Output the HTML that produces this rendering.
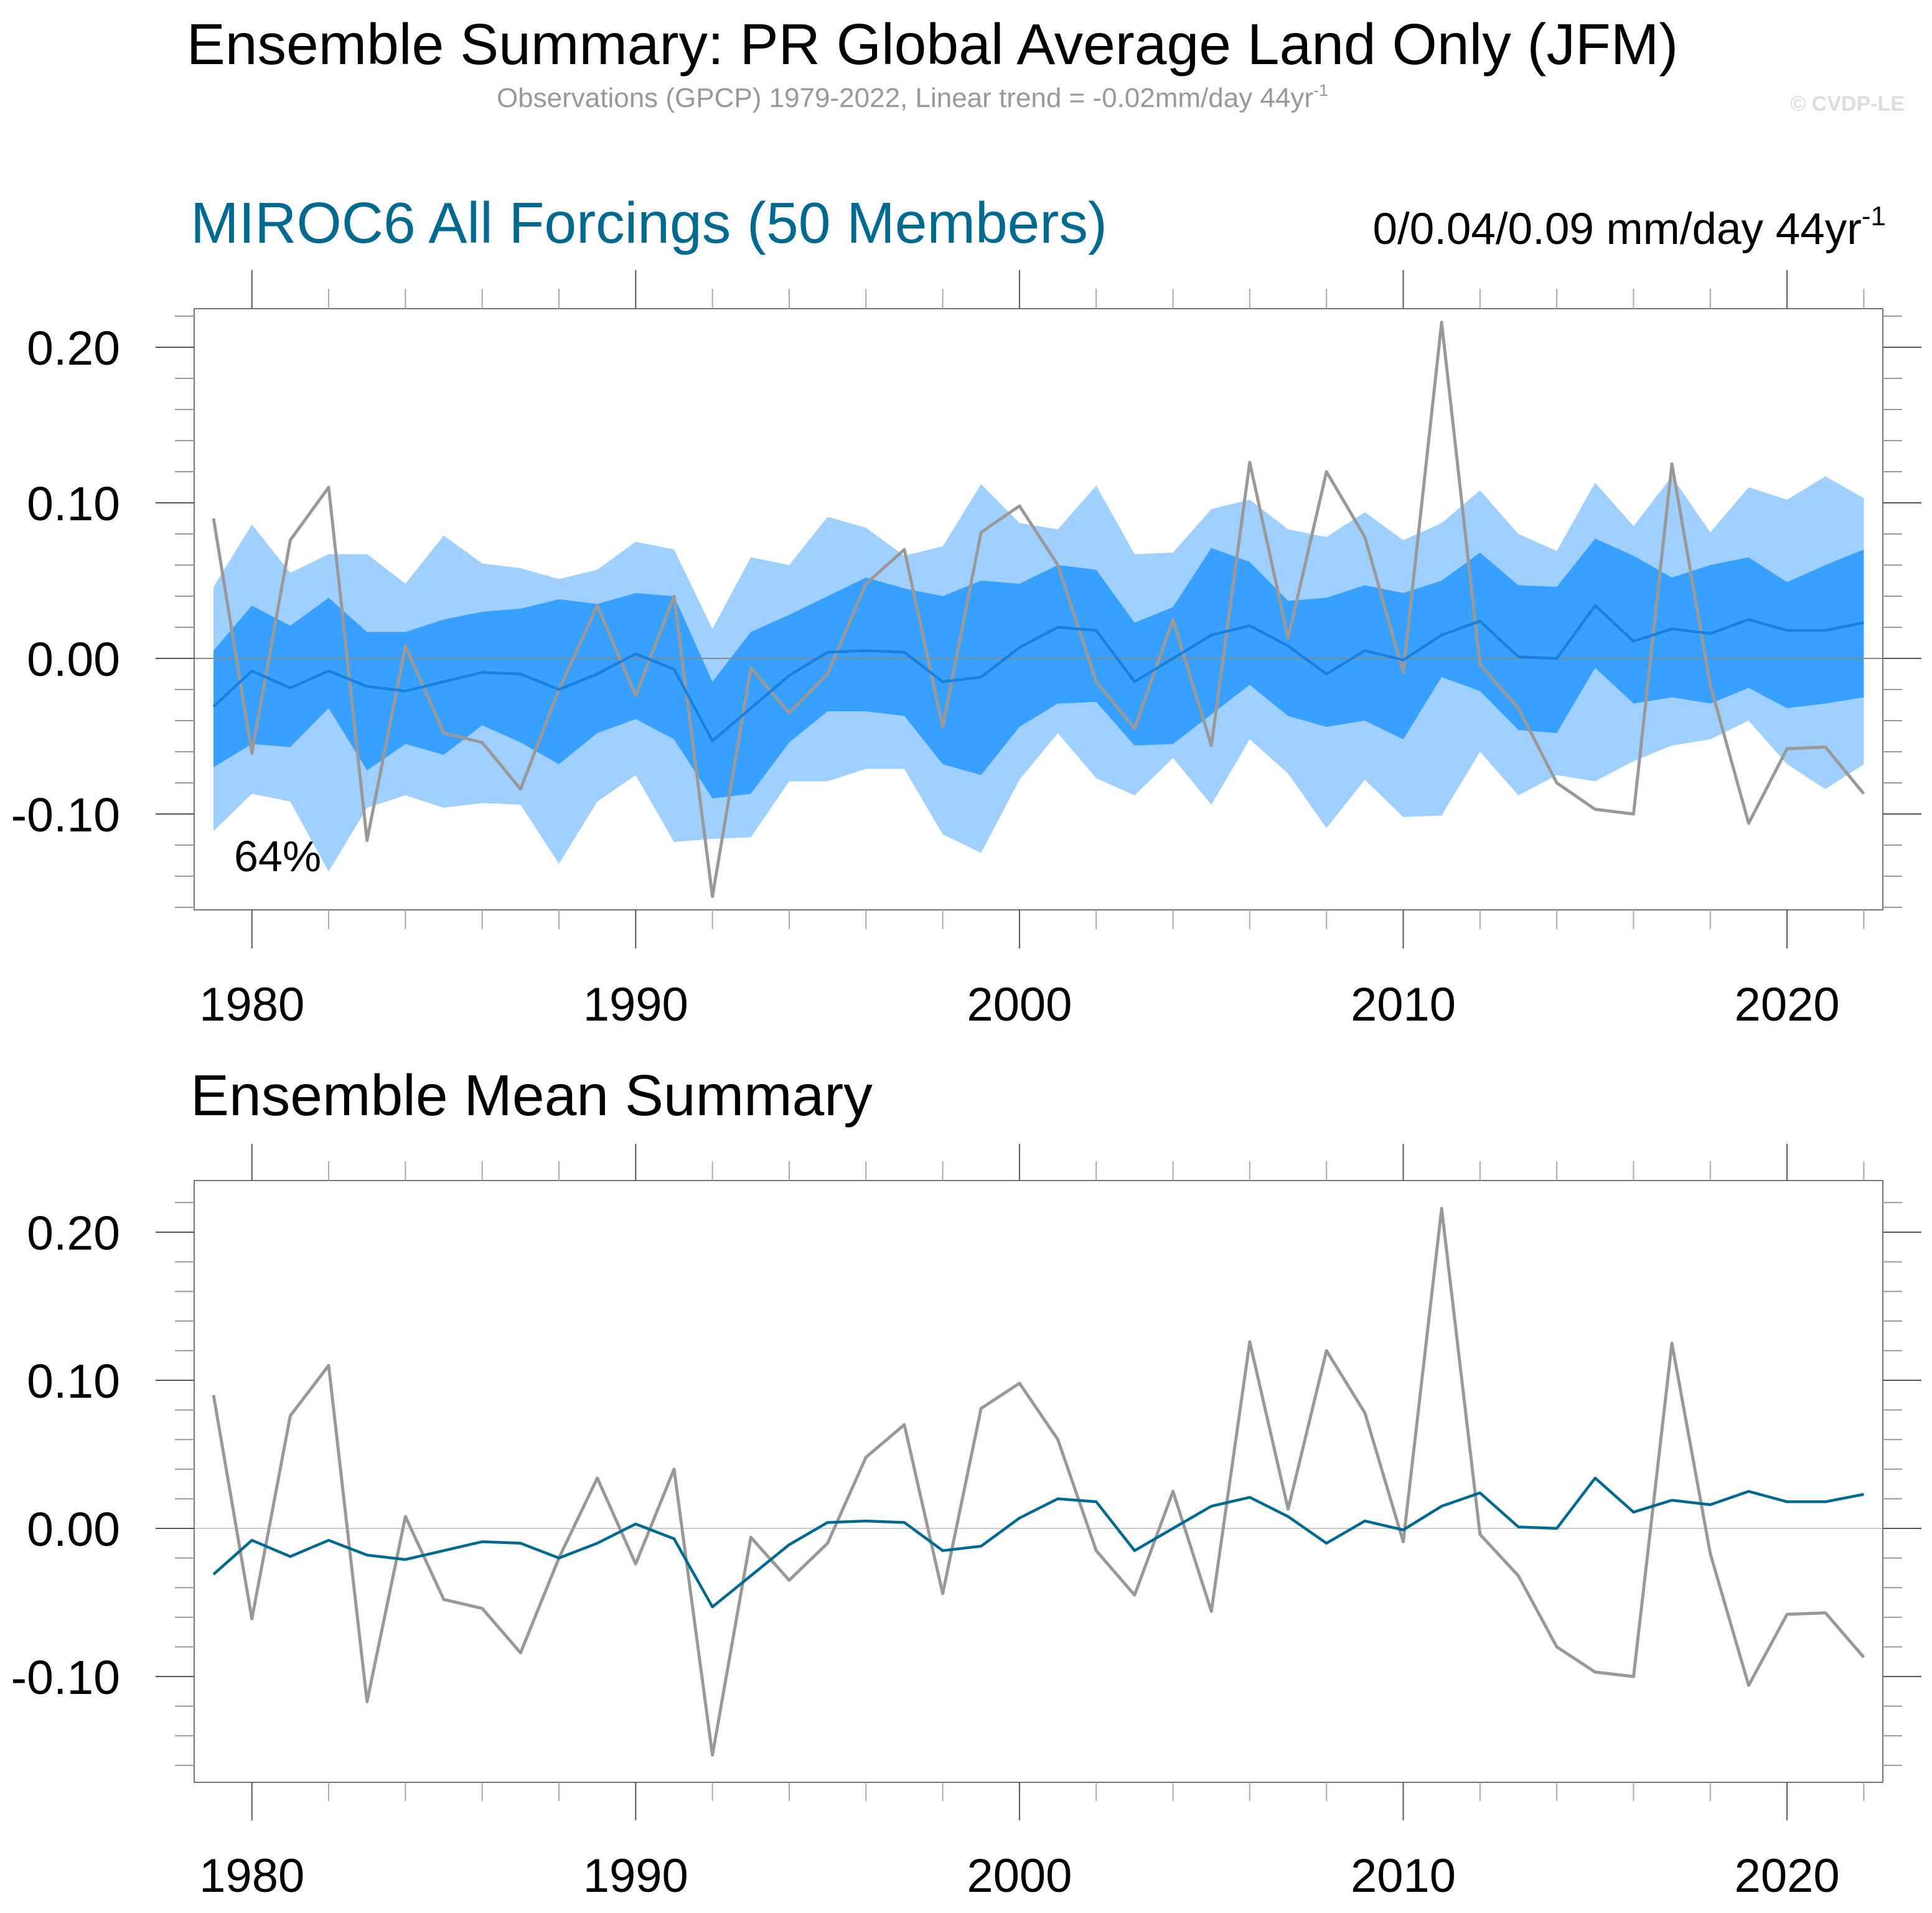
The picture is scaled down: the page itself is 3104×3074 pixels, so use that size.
<!DOCTYPE html>
<html><head><meta charset="utf-8">
<style>
html,body{margin:0;padding:0;background:#fff;}
svg{display:block;font-family:"Liberation Sans",sans-serif;}
</style></head>
<body>
<svg id="chart" width="3104" height="3074" viewBox="0 0 3104 3074" xmlns="http://www.w3.org/2000/svg">
<rect width="3104" height="3074" fill="#fff"/>
<text x="1498" y="103" font-size="93" text-anchor="middle" fill="#000">Ensemble Summary: PR Global Average Land Only (JFM)</text>
<text x="1466" y="172" font-size="44" text-anchor="middle" fill="#999">Observations (GPCP) 1979-2022, Linear trend = -0.02mm/day 44yr<tspan font-size="27" dy="-18">-1</tspan></text>
<text x="3060" y="178" font-size="34" font-weight="bold" text-anchor="end" fill="#ddd">© CVDP-LE</text>
<text x="306" y="390" font-size="93" fill="#00698f">MIROC6 All Forcings (50 Members)</text>
<text x="3030" y="392" font-size="71" text-anchor="end" fill="#000">0/0.04/0.09 mm/day 44yr<tspan font-size="44" dy="-30">-1</tspan></text>
<text x="306" y="1792" font-size="93" fill="#000">Ensemble Mean Summary</text>
<text x="376" y="1400" font-size="70" fill="#000">64%</text>
<g id="p1"></g>
<g id="p2"></g>
</svg>
<script>
const years = [];
for (let y = 1979; y <= 2022; y++) years.push(y);
const obs = [0.090,-0.061,0.076,0.110,-0.117,0.008,-0.048,-0.054,-0.084,-0.020,0.034,-0.024,0.040,-0.153,-0.006,-0.035,-0.010,0.048,0.070,-0.044,0.081,0.098,0.060,-0.015,-0.045,0.025,-0.056,0.126,0.013,0.120,0.078,-0.009,0.216,-0.004,-0.032,-0.080,-0.097,-0.100,0.125,-0.017,-0.106,-0.058,-0.057,-0.087];
const ensMean = [-0.031,-0.008,-0.019,-0.008,-0.018,-0.021,-0.015,-0.009,-0.010,-0.020,-0.010,0.003,-0.007,-0.053,-0.032,-0.011,0.004,0.005,0.004,-0.015,-0.012,0.007,0.020,0.018,-0.015,0.000,0.015,0.021,0.008,-0.010,0.005,-0.001,0.015,0.024,0.001,0.000,0.034,0.011,0.019,0.016,0.025,0.018,0.018,0.023];
const outerHi = [0.046,0.086,0.055,0.067,0.067,0.048,0.079,0.061,0.058,0.051,0.057,0.075,0.070,0.019,0.065,0.060,0.091,0.084,0.066,0.072,0.112,0.087,0.083,0.111,0.067,0.068,0.096,0.102,0.083,0.078,0.094,0.076,0.087,0.108,0.080,0.069,0.113,0.085,0.117,0.081,0.110,0.102,0.117,0.103];
const innerHi = [0.005,0.034,0.021,0.039,0.017,0.017,0.025,0.030,0.032,0.038,0.035,0.042,0.040,-0.015,0.017,0.028,0.040,0.052,0.045,0.040,0.050,0.048,0.060,0.057,0.023,0.033,0.071,0.062,0.037,0.039,0.047,0.042,0.050,0.068,0.047,0.046,0.077,0.066,0.052,0.060,0.065,0.049,0.060,0.070];
const innerLo = [-0.070,-0.055,-0.057,-0.032,-0.072,-0.055,-0.062,-0.043,-0.054,-0.068,-0.048,-0.039,-0.052,-0.090,-0.087,-0.054,-0.034,-0.034,-0.037,-0.068,-0.075,-0.044,-0.029,-0.028,-0.056,-0.055,-0.036,-0.017,-0.037,-0.044,-0.040,-0.052,-0.012,-0.021,-0.046,-0.048,-0.006,-0.029,-0.025,-0.029,-0.019,-0.032,-0.029,-0.025];
const outerLo = [-0.111,-0.087,-0.092,-0.137,-0.096,-0.088,-0.096,-0.093,-0.094,-0.132,-0.092,-0.075,-0.118,-0.116,-0.115,-0.079,-0.079,-0.071,-0.071,-0.113,-0.125,-0.078,-0.048,-0.077,-0.088,-0.064,-0.094,-0.052,-0.074,-0.109,-0.078,-0.102,-0.101,-0.060,-0.088,-0.075,-0.079,-0.066,-0.056,-0.052,-0.040,-0.068,-0.084,-0.068];
const yTickVals = [-0.10, 0.00, 0.10, 0.20];
const yTickLabels = ["-0.10","0.00","0.10","0.20"];
const xTickYears = [1980,1990,2000,2010,2020];
const xTickLabels = ["1980","1990","2000","2010","2020"];

const NS = "http://www.w3.org/2000/svg";
function mk(parent, tag, attrs) {
  const e = document.createElementNS(NS, tag);
  for (const k in attrs) e.setAttribute(k, attrs[k]);
  parent.appendChild(e);
  return e;
}
const xScale = yr => 404.7 + (yr - 1980) * 61.66;
const L = 312, R = 3025;

function drawPanel(g, top, bottom, zeroY, per01, withBands, meanColor, zeroColor, tickTopMaj, tickTopMin, tickBotMin, tickBotMaj, labelY, namePrefix) {
  const yS = v => zeroY - v / 0.1 * per01;
  if (withBands) {
    const poly = (hi, lo, color, name) => {
      let pts = years.map((yr, i) => xScale(yr) + "," + yS(hi[i]));
      for (let i = years.length - 1; i >= 0; i--) pts.push(xScale(years[i]) + "," + yS(lo[i]));
      const p = mk(g, "polygon", {points: pts.join(" "), fill: color});
      
      
    };
    poly(outerHi, outerLo, "#9fd0ff", namePrefix + "-outer-range-band");
    poly(innerHi, innerLo, "#38a0ff", namePrefix + "-inner-range-band");
  }
  const zl = mk(g, "line", {x1: L, x2: R, y1: zeroY, y2: zeroY, stroke: zeroColor, "stroke-width": 2});
  
  
  const op = mk(g, "polyline", {points: years.map((yr, i) => xScale(yr) + "," + yS(obs[i])).join(" "), fill: "none", stroke: "#999", "stroke-width": 5, "stroke-linejoin": "round"});
  
  
  const mp = mk(g, "polyline", {points: years.map((yr, i) => xScale(yr) + "," + yS(ensMean[i])).join(" "), fill: "none", stroke: meanColor, "stroke-width": 4.5, "stroke-linejoin": "round"});
  
  
  const fr = mk(g, "rect", {x: L, y: top, width: R - L, height: bottom - top, fill: "none", stroke: "#777", "stroke-width": 2});
  
  
  for (let k = -8; k <= 11; k++) {
    const v = k * 0.02;
    const y = yS(v);
    if (y < top - 1 || y > bottom + 1) continue;
    const major = (k % 5 === 0);
    const len = major ? 62 : 31;
    const c = major ? "#555" : "#999";
    mk(g, "line", {x1: L - len, x2: L, y1: y, y2: y, stroke: c, "stroke-width": 2});
    mk(g, "line", {x1: R, x2: R + len, y1: y, y2: y, stroke: c, "stroke-width": 2});
  }
  yTickVals.forEach((v, i) => {
    const t = mk(g, "text", {x: 193, y: yS(v) + 28, "font-size": 77, "text-anchor": "end", fill: "#000"});
    t.textContent = yTickLabels[i];
    
    
  });
  for (let yr = 1980; yr <= 2022; yr += 2) {
    const x = xScale(yr);
    const major = (yr % 10 === 0);
    const c = major ? "#555" : "#aaa";
    mk(g, "line", {x1: x, x2: x, y1: major ? tickTopMaj : tickTopMin, y2: top, stroke: c, "stroke-width": 2});
    mk(g, "line", {x1: x, x2: x, y1: bottom, y2: major ? tickBotMaj : tickBotMin, stroke: c, "stroke-width": 2});
  }
  xTickYears.forEach((yr, i) => {
    const t = mk(g, "text", {x: xScale(yr), y: labelY, "font-size": 76, "text-anchor": "middle", fill: "#000"});
    t.textContent = xTickLabels[i];
    
    
  });
}
drawPanel(document.getElementById("p1"), 496, 1462, 1058, 250, true, "#1a80e0", "#888", 434, 464, 1493, 1524, 1640, "panel1");
drawPanel(document.getElementById("p2"), 1897, 2864, 2456, 238, false, "#00698f", "#ccc", 1838, 1866, 2894, 2925, 3040, "panel2");
</script>
</body></html>
